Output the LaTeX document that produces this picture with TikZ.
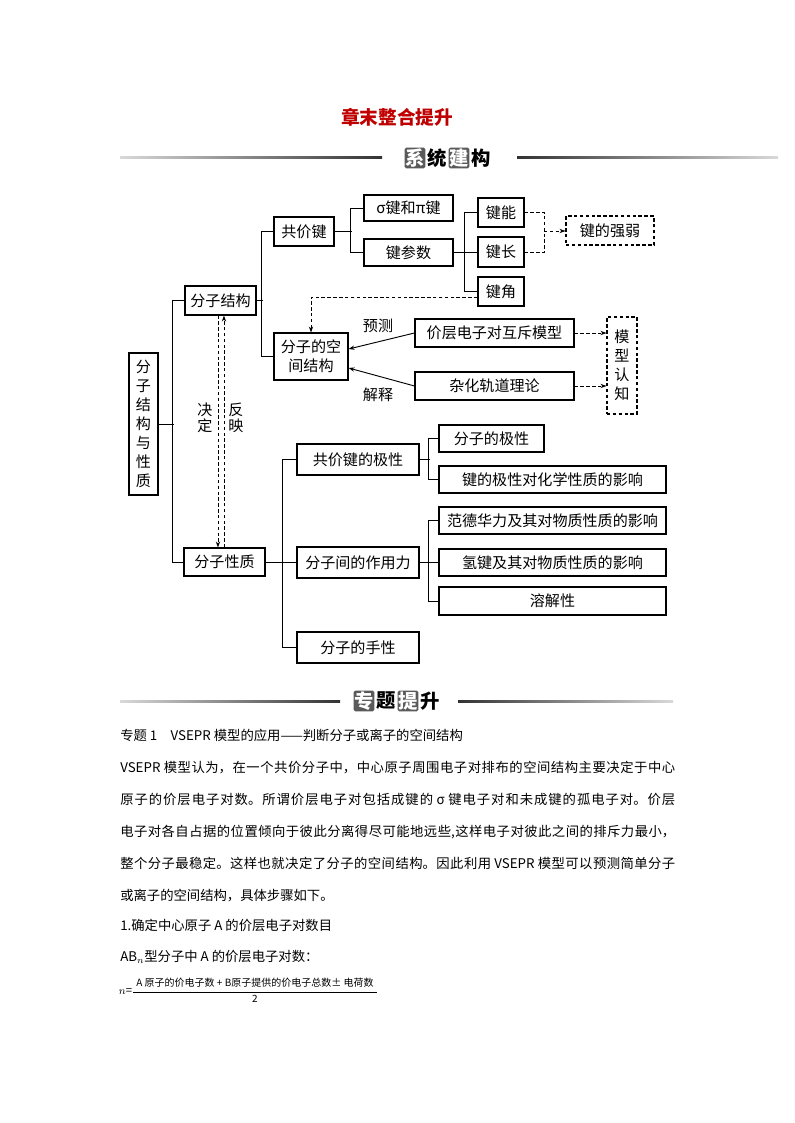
\documentclass[tikz,border=0pt]{standalone}
\usepackage{fontspec}
\setmainfont{Noto Sans CJK SC}
\usepackage{xcolor}
\usepackage{tikz}
\usetikzlibrary{arrows.meta}
\XeTeXlinebreaklocale "zh"
\XeTeXlinebreakskip=0pt plus 2pt
\definecolor{titleRed}{HTML}{C00000}
\definecolor{tagGray}{HTML}{5A5A5A}

\begin{document}
\begin{tikzpicture}[x=0.75pt,y=-0.75pt,>={Stealth[length=4.5pt,width=3.2pt]},
  topic/.style={draw,line width=0.8pt,inner sep=0pt,align=center,
    font=\fontsize{11.3}{14.2}\selectfont},
  hint/.style={topic,dash pattern=on 2.6pt off 1.8pt},
  sz/.style 2 args={minimum width=#1*0.75pt,minimum height=#2*0.75pt},
  link/.style={line width=0.7pt},
  hintline/.style={line width=0.6pt,dash pattern=on 2.6pt off 1.8pt},
  lab/.style={inner sep=0pt,align=center,font=\fontsize{11.3}{12}\selectfont},
  tagbox/.style={fill=tagGray,text=white,rounded corners=1.2pt,inner sep=0pt,
    minimum width=15.5pt,minimum height=15.5pt,font=\fontsize{14.5}{14.5}\bfseries\selectfont},
  tagchar/.style={inner sep=0pt,font=\fontsize{14.5}{14.5}\bfseries\selectfont},
  body/.style={anchor=west,inner sep=0pt,font=\fontsize{10}{24}\selectfont},
  para/.style={anchor=north west,inner sep=0pt,text width=416.25pt,align=justify,
    font=\fontsize{10}{24}\selectfont}]
  \useasboundingbox[fill=white] (0,0) rectangle (794,1123);
  % heading
  \node[inner sep=0pt,text=titleRed,font=\fontsize{14}{14}\bfseries\selectfont] (title) at (397,117) {章末整合提升};
  \shade[left color=black!15,right color=black!80] (120,157) rectangle (382,159);
  \shade[left color=black!80,right color=black!15] (517,157) rectangle (778,159);
  \node[tagbox] (h1) at (415,158) {系};
  \node[tagchar] (h2) at (437,158) {统};
  \node[tagbox] (h3) at (459,158) {建};
  \node[tagchar] (h4) at (481,158) {构};
  % main tree
  \node[topic,sz={29}{142}] (root) at (143.5,424) {分\\子\\结\\构\\与\\性\\质};
  \node[topic,sz={71}{29}] (ms) at (220.5,300.5) {分子结构};
  \node[topic,sz={81}{28}] (mp) at (224.5,562) {分子性质};
  \node[topic,sz={60}{29}] (cb) at (304,231.5) {共价键};
  \node[topic,sz={74}{47}] (sp) at (311,356.5) {分子的空\\间结构};
  \node[topic,sz={89}{26}] (sigma) at (408.5,208) {σ键和π键};
  \node[topic,sz={89}{27}] (par) at (408.5,252.5) {键参数};
  \node[topic,sz={46}{29}] (en) at (501,212.5) {键能};
  \node[topic,sz={46}{30}] (len) at (501,252) {键长};
  \node[topic,sz={46}{29}] (ang) at (501,291.5) {键角};
  \node[hint,sz={88}{29}] (str) at (610,230.5) {键的强弱};
  \node[topic,sz={159}{28}] (vsepr) at (494.5,333) {价层电子对互斥模型};
  \node[topic,sz={159}{28}] (hyb) at (494.5,386) {杂化轨道理论};
  \node[hint,sz={30}{97}] (cog) at (622,365.5) {模\\型\\认\\知};
  \node[topic,sz={122}{31}] (pol) at (358,459.5) {共价键的极性};
  \node[topic,sz={122}{31}] (inter) at (358,562.5) {分子间的作用力};
  \node[topic,sz={122}{31}] (chir) at (358,647.5) {分子的手性};
  \node[topic,sz={105}{27}] (mpol) at (491.5,438.5) {分子的极性};
  \node[topic,sz={227}{27}] (bpol) at (552.5,479.5) {键的极性对化学性质的影响};
  \node[topic,sz={227}{27}] (vdw) at (552.5,520.5) {范德华力及其对物质性质的影响};
  \node[topic,sz={227}{27}] (hb) at (552.5,562.5) {氢键及其对物质性质的影响};
  \node[topic,sz={227}{28}] (sol) at (552.5,601) {溶解性};
  \draw[link] (root.east) -- ++(15,0);
  \draw[link] (ms.west) -- ++(-12,0) |- (mp.west);
  \draw[link] (ms.east) -- ++(6,0);
  \draw[link] (cb.west) -- ++(-12,0) |- (sp.west);
  \draw[link] (cb.east) -- ++(17,0);
  \draw[link] (sigma.west) -- ++(-13,0) |- (par.west);
  \draw[link] (par.east) -- (par.east -| len.west);
  \draw[link] (en.west) -- ++(-13,0) |- (ang.west);
  \draw[link] (mp.east) -- (mp.east -| inter.west);
  \draw[link] (pol.west) -- ++(-14,0) |- (chir.west);
  \draw[link] (pol.east) -- ++(10,0);
  \draw[link] (mpol.west) -- ++(-10,0) |- (bpol.west);
  \draw[link] (inter.east) -- (hb.west);
  \draw[link] (vdw.west) -- ++(-10,0) |- (sol.west);
  \draw[hintline] (en.east) -- ++(20,0) |- (len.east);
  \coordinate (jn) at (544,231);
  \draw[hintline,->] (jn) -- (jn -| str.west);
  \draw[hintline,->] ([yshift=-4.5pt]ang.west) -| (sp.north);
  \draw[link,->] (vsepr.west) -- ([yshift=5.6pt]sp.east);
  \draw[link,->] (hyb.west) -- ([yshift=-8.6pt]sp.east);
  \node[lab] (pred) at (378,326) {预测};
  \node[lab] (expl) at (378,395) {解释};
  \draw[hintline,->] (vsepr.east) -- (vsepr.east -| cog.west);
  \draw[hintline,->] (hyb.east) -- (hyb.east -| cog.west);
  \draw[hintline,->] ([xshift=-1.9pt]ms.south) -- ([xshift=-1.9pt]ms.south |- mp.north);
  \draw[hintline,->] ([xshift=2.6pt]ms.south |- mp.north) -- ([xshift=2.6pt]ms.south);
  \node[lab] (dec) at (205,418) {决\\定};
  \node[lab] (refl) at (236,418) {反\\映};
  % second heading
  \shade[left color=black!15,right color=black!80] (120,700) rectangle (340,702);
  \shade[left color=black!80,right color=black!15] (458,700) rectangle (673,702);
  \node[tagbox] (k1) at (364,701) {专};
  \node[tagchar] (k2) at (386,701) {题};
  \node[tagbox] (k3) at (408,701) {提};
  \node[tagchar] (k4) at (430,701) {升};
  % text
  \node[body] (l1) at (120,735) {专题 1\quad VSEPR 模型的应用——判断分子或离子的空间结构};
  \node[para] (p1) at (120,761) {VSEPR 模型认为，在一个共价分子中，中心原子周围电子对排布的空间结构主要决定于中心\linebreak 原子的价层电子对数。所谓价层电子对包括成键的 σ 键电子对和未成键的孤电子对。价层\linebreak 电子对各自占据的位置倾向于彼此分离得尽可能地远些,这样电子对彼此之间的排斥力最小，\linebreak 整个分子最稳定。这样也就决定了分子的空间结构。因此利用 VSEPR 模型可以预测简单分子\linebreak 或离子的空间结构，具体步骤如下。};
  \node[body] (l7) at (120,925) {1.确定中心原子 A 的价层电子对数目};
  \node[body] (l8) at (120,957) {AB$_n$型分子中 A 的价层电子对数：};
  \coordinate (fa) at (133,992);
  \coordinate (fb) at (377,992);
  \draw[line width=0.5pt] (fa) -- (fb);
  \node[inner sep=0.5pt,anchor=east,font=\fontsize{8.5}{9}\selectfont] (neq) at (fa) {$n$=};
  \node[inner sep=0pt,font=\fontsize{7.5}{8}\selectfont] (num) at (255,983) {A 原子的价电子数 + B原子提供的价电子总数± 电荷数};
  \node[inner sep=0pt,font=\fontsize{7.5}{8}\selectfont] (den) at (255,999) {2};
\end{tikzpicture}
\end{document}
